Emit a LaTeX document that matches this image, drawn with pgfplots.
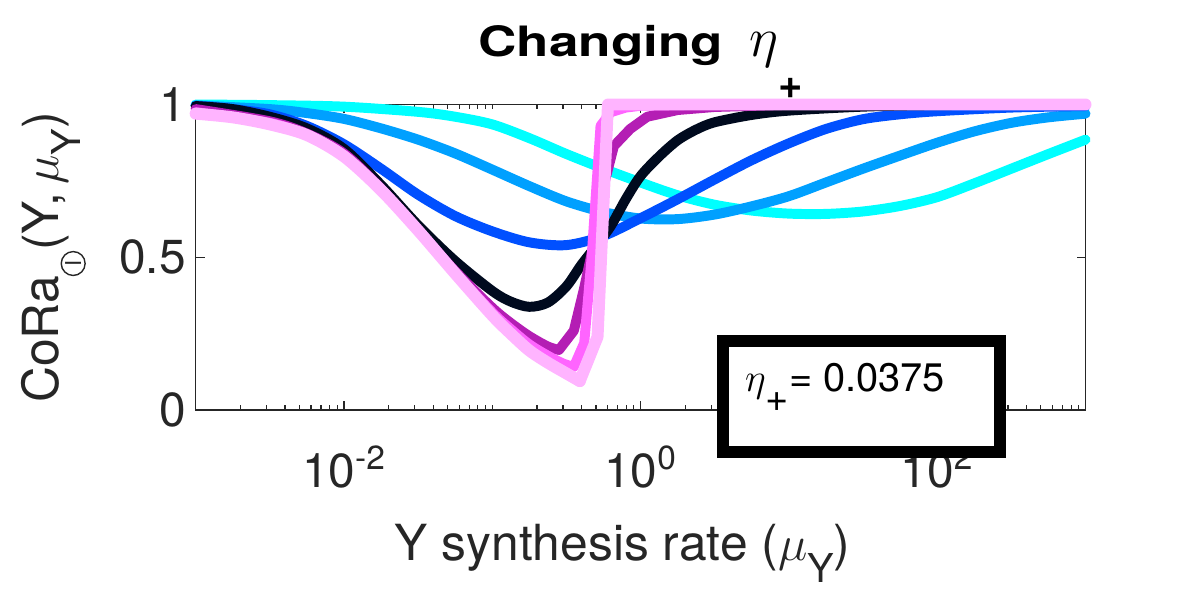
\RequirePackage{fix-cm}
\documentclass[border=0pt]{standalone}
\usepackage{fontspec}
\setmainfont{TeX Gyre Heros}
\usepackage{graphicx}
\usepackage{pgfplots}
\pgfplotsset{compat=1.18}
\definecolor{axgray}{RGB}{38,38,38}
\definecolor{cA}{RGB}{0,255,255}
\definecolor{cB}{RGB}{0,160,255}
\definecolor{cC}{RGB}{0,80,255}
\definecolor{cD}{RGB}{0,10,30}
\definecolor{cE}{RGB}{180,30,180}
\definecolor{cF}{RGB}{255,100,255}
\definecolor{cG}{RGB}{255,180,255}
\newcommand{\sbs}[1]{\raisebox{-0.45em}{\scalebox{0.8}{#1}}}
\newsavebox{\circIbox}
\begin{document}
\sbox{\circIbox}{\tikz[baseline={(0,7.5bp)}]{\draw[axgray, line width=0.7bp] (0,0) circle (6bp); \node[inner sep=0pt, text=axgray, font=\fontsize{11bp}{11bp}\selectfont] at (0,0) {$\mathrm{I}$};}}
\begin{tikzpicture}
\path[use as bounding box] (-95.5bp,-94bp) rectangle (504.5bp,206bp);
\begin{axis}[
  at={(0,0)}, anchor=south west,
  scale only axis, width=447bp, height=153.5bp,
  xmode=log, xmin=1e-3, xmax=1e3, ymin=0, ymax=1,
  clip=false,
  axis line style={axgray, line width=0.8bp},
  every tick/.style={axgray, line width=0.6bp},
  tick align=inside,
  major tick length=4.5bp, minor tick length=2.5bp,
  xtick={0.01,1,100},
  xticklabels={10\textsuperscript{-2},10\textsuperscript{0},10\textsuperscript{2}},
  minor xtick={0.002,0.003,0.004,0.005,0.006,0.007,0.008,0.009,
    0.02,0.03,0.04,0.05,0.06,0.07,0.08,0.09,0.1,
    0.2,0.3,0.4,0.5,0.6,0.7,0.8,0.9,
    2,3,4,5,6,7,8,9,10,
    20,30,40,50,60,70,80,90,
    200,300,400,500,600,700,800,900},
  ytick={0,0.5,1}, yticklabels={0,0.5,1},
  tick label style={font=\fontsize{24bp}{28bp}\selectfont, text=axgray},
  xticklabel style={yshift=-14.5bp},
  yticklabel style={xshift=-1.5bp},
  xlabel={Y synthesis rate ($\mu$\sbs{Y})},
  ylabel={CoRa\usebox{\circIbox}(Y,\,$\mu$\sbs{Y})},
  label style={font=\fontsize{25bp}{30bp}\selectfont, text=axgray},
  xlabel style={at={(axis description cs:0.5,0)}, anchor=base, yshift=-75.5bp, xshift=-9bp},
  ylabel style={at={(axis description cs:0,0.5)}, anchor=base, yshift=69bp},
  title={\scalebox{1.27}[1]{\bfseries Changing}\hspace{13bp}{\fontsize{28bp}{28bp}\selectfont$\eta$}\raisebox{-21bp}{\bfseries +}},
  title style={at={(axis description cs:0.5,1)}, anchor=base, yshift=18bp, font=\fontsize{21bp}{24bp}\selectfont, text=black},
  every axis plot/.append style={line join=round, line cap=round},
]
% cyan
\addplot[cA, line width=5bp, smooth] coordinates {
(0.001,1.0) (0.0031623,0.998) (0.01,0.993) (0.031623,0.976) (0.056234,0.96) (0.1,0.935) (0.17783,0.89) (0.31623,0.838) (0.56234,0.79) (1,0.745) (1.7783,0.703) (3.1623,0.672) (5.6234,0.653) (10,0.643) (17.783,0.642) (31.623,0.65) (56.234,0.668) (100,0.697) (177.83,0.742) (316.23,0.79) (562.34,0.838) (1000,0.885)};
% light blue
\addplot[cB, line width=5bp, smooth] coordinates {
(0.001,0.997) (0.0031623,0.985) (0.0056234,0.972) (0.01,0.953) (0.017783,0.922) (0.031623,0.885) (0.056234,0.84) (0.1,0.787) (0.17783,0.733) (0.31623,0.683) (0.56234,0.648) (1,0.627) (1.7783,0.625) (3.1623,0.64) (5.6234,0.667) (10,0.7) (17.783,0.745) (31.623,0.79) (56.234,0.833) (100,0.875) (177.83,0.912) (316.23,0.94) (562.34,0.958) (1000,0.97)};
% blue
\addplot[cC, line width=5bp, smooth] coordinates {
(0.001,0.996) (0.0017783,0.985) (0.0031623,0.968) (0.0056234,0.93) (0.01,0.87) (0.017783,0.79) (0.031623,0.705) (0.056234,0.635) (0.1,0.585) (0.17783,0.549) (0.31623,0.54) (0.56234,0.57) (1,0.628) (1.7783,0.69) (3.1623,0.755) (5.6234,0.818) (10,0.873) (17.783,0.92) (31.623,0.952) (56.234,0.968) (100,0.978) (316.23,0.99) (1000,0.995)};
% black
\addplot[cD, line width=5bp, smooth] coordinates {
(0.001,0.995) (0.0017783,0.985) (0.0031623,0.96) (0.0056234,0.922) (0.01,0.855) (0.017783,0.737) (0.031623,0.605) (0.056234,0.488) (0.1,0.39) (0.13335,0.355) (0.17783,0.338) (0.23714,0.352) (0.31623,0.405) (0.39811,0.475) (0.50119,0.537) (0.63096,0.603) (0.79433,0.69) (1,0.766) (1.3335,0.83) (1.7783,0.883) (2.3714,0.918) (3.1623,0.942) (5.6234,0.966) (10,0.98) (31.623,0.993) (100,0.998) (1000,1.0)};
% purple
\addplot[cE, line width=5bp, smooth] coordinates {
(0.001,0.985) (0.0031623,0.945) (0.0056234,0.905) (0.01,0.84) (0.017783,0.725) (0.031623,0.59) (0.056234,0.455) (0.1,0.335) (0.13335,0.285) (0.17783,0.242) (0.23714,0.208) (0.28184,0.197)};
\addplot[cE, line width=5bp] coordinates {
(0.28184,0.197) (0.35481,0.26) (0.41687,0.4) (0.50119,0.58) (0.57544,0.75) (0.66069,0.864) (0.85114,0.92) (1.109,0.96) (1.7783,0.982) (3.1623,0.992) (10,0.999) (1000,1.0)};
% magenta
\addplot[cF, line width=5bp, smooth] coordinates {
(0.001,0.975) (0.0031623,0.94) (0.0056234,0.9) (0.01,0.835) (0.017783,0.72) (0.031623,0.588) (0.056234,0.45) (0.1,0.32) (0.13335,0.265) (0.17783,0.215) (0.23714,0.178) (0.30200,0.152) (0.35481,0.142)};
\addplot[cF, line width=5bp] coordinates {
(0.35481,0.142) (0.41687,0.22) (0.46774,0.5) (0.53703,0.93) (0.63096,0.975) (0.79433,0.99) (1,0.996) (3.1623,1.0) (1000,1.0)};
% pink
\addplot[cG, line width=6bp, smooth] coordinates {
(0.001,0.97) (0.0017783,0.958) (0.0031623,0.935) (0.0056234,0.9) (0.01,0.83) (0.017783,0.72) (0.031623,0.588) (0.056234,0.447) (0.1,0.31) (0.13335,0.25) (0.17783,0.195) (0.23714,0.155) (0.31623,0.12) (0.38905,0.095)};
\addplot[cG, line width=6bp] coordinates {
(0.38905,0.095) (0.51286,0.24) (0.60256,1.0) (1000,1.0)};
\coordinate (bl) at (rel axis cs:0.5928,-0.1368);
\coordinate (tr) at (rel axis cs:0.9038,0.2248);
\coordinate (txt) at (rel axis cs:0.617,0.0619);
\end{axis}
\draw[line width=6bp, fill=white, draw=black] (bl) rectangle (tr);
\node[anchor=base west, inner sep=0pt, font=\fontsize{20bp}{24bp}\selectfont] at (txt) {$\eta$\raisebox{-10bp}{+}= 0.0375};
\end{tikzpicture}
\end{document}
